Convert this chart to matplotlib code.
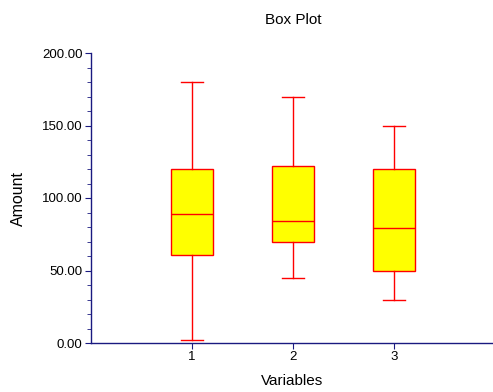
import matplotlib
matplotlib.use("Agg")
import matplotlib.pyplot as plt
from matplotlib.ticker import MultipleLocator, FormatStrFormatter

plt.rcParams['font.family'] = ['Liberation Sans', 'DejaVu Sans']

labels = ["1", "2", "3"]
whislo = [2, 45, 30]
q1 = [61, 70, 50]
med = [89, 84, 79]
q3 = [120, 122, 120]
whishi = [180, 170, 150]

stats = [dict(label=l, whislo=a, q1=b, med=c, q3=d, whishi=e, fliers=[])
         for l, a, b, c, d, e in zip(labels, whislo, q1, med, q3, whishi)]

fig = plt.figure(figsize=(4.93, 3.92), dpi=100)
ax = fig.add_axes([91/493, 49/392, 402/493, 290/392])

red = "#ff0000"
ax.bxp(stats, positions=[1, 2, 3], widths=0.425, patch_artist=True,
       showfliers=False,
       boxprops=dict(facecolor="#ffff00", edgecolor=red, linewidth=1.0),
       medianprops=dict(color=red, linewidth=1.0),
       whiskerprops=dict(color=red, linewidth=1.0),
       capprops=dict(color=red, linewidth=1.0),
       capwidths=0.21)

axcol = "#1a1a80"
ax.set_xlim(0, 3.98)
ax.set_ylim(0, 200)
for s in ["top", "right"]:
    ax.spines[s].set_visible(False)
for s in ["left", "bottom"]:
    ax.spines[s].set_color(axcol)
    ax.spines[s].set_linewidth(1.0)
ax.spines["bottom"].set_zorder(0)

ax.set_xticks([1, 2, 3])
ax.set_xticklabels(labels)
ax.yaxis.set_major_locator(MultipleLocator(50))
ax.yaxis.set_minor_locator(MultipleLocator(10))
ax.yaxis.set_major_formatter(FormatStrFormatter("%.2f"))
ax.tick_params(axis="both", which="both", color=axcol, labelsize=9.5,
               labelcolor="black", direction="out")
ax.tick_params(axis="both", which="major", length=4, pad=2)
ax.tick_params(axis="y", which="minor", length=3)

ax.set_xlabel("Variables", fontsize=11)
ax.set_ylabel("Amount", fontsize=11.5)
ax.xaxis.set_label_coords(0.5, -(381 - 343) / 290)
ax.xaxis.label.set_va("center")
ax.yaxis.set_label_coords(-(91 - 18) / 402, 0.5)
ax.yaxis.label.set_va("center")
fig.text(293/493, 1 - 20/392, "Box Plot", ha="center", va="center", fontsize=11)

fig.savefig("out.png", dpi=100)
